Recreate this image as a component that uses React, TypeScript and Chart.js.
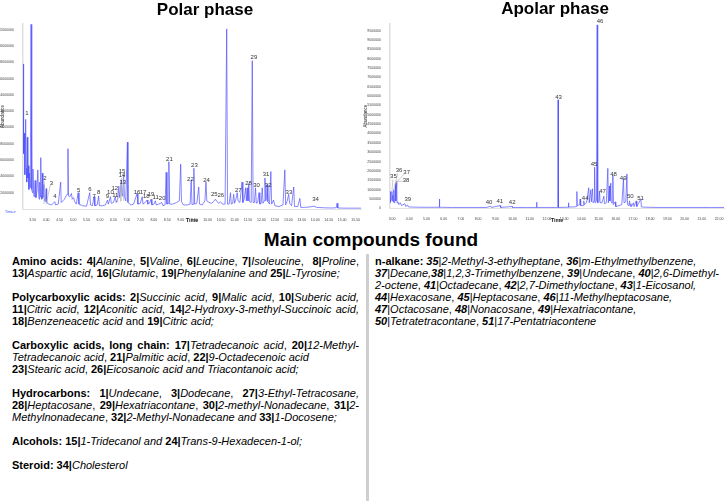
import React, { useEffect, useRef } from "react";
import { Chart, registerables } from "chart.js";
Chart.register(...registerables);

// ---------- DATA ----------
// Polar phase trace: [retention time (min), abundance (millions)]
const polarTrace: [number, number][] = [
  [3.14, 17.8], [3.155, 8.5], [3.17, 6.8], [3.19, 9.3], [3.21, 4.2], [3.24, 11.0], [3.26, 5.0], [3.28, 3.3],
  [3.30, 8.8], [3.32, 3.8], [3.34, 5.3], [3.36, 2.4], [3.38, 4.4], [3.41, 2.6], [3.44, 22.65], [3.465, 2.4],
  [3.49, 2.0], [3.51, 4.9], [3.53, 2.0], [3.56, 1.5], [3.59, 3.5], [3.62, 1.4], [3.66, 2.3], [3.69, 4.8],
  [3.72, 1.8], [3.74, 1.2], [3.76, 3.3], [3.78, 1.5], [3.80, 6.3], [3.82, 1.6], [3.84, 1.2], [3.86, 4.4],
  [3.88, 1.4], [3.92, 3.0], [3.94, 1.0], [3.97, 0.9], [4.00, 2.5], [4.02, 0.8], [4.10, 0.6], [4.20, 0.5],
  [4.32, 0.9], [4.35, 0.5], [4.45, 0.6], [4.54, 3.3], [4.56, 0.8], [4.62, 1.0], [4.68, 1.2], [4.74, 1.6],
  [4.78, 1.8], [4.81, 7.4], [4.83, 1.6], [4.88, 1.5], [4.94, 1.9], [4.97, 1.2], [5.02, 1.4], [5.06, 0.9],
  [5.12, 0.6], [5.19, 2.0], [5.22, 0.6], [5.35, 0.4], [5.50, 0.35], [5.62, 2.0], [5.65, 0.5], [5.72, 0.4],
  [5.78, 1.5], [5.81, 0.4], [5.90, 0.5], [5.95, 1.6], [5.98, 0.4], [6.10, 0.4], [6.20, 0.5], [6.28, 1.1],
  [6.31, 0.6], [6.39, 1.5], [6.42, 0.7], [6.50, 0.8], [6.57, 1.5], [6.60, 0.8], [6.66, 1.2], [6.70, 2.8],
  [6.73, 1.4], [6.76, 2.2], [6.79, 3.6], [6.82, 1.6], [6.85, 2.0], [6.88, 4.2], [6.91, 1.5], [6.96, 1.0],
  [7.02, 8.2], [7.04, 0.8], [7.15, 0.5], [7.25, 0.6], [7.38, 1.9], [7.41, 0.6], [7.50, 0.7], [7.57, 1.5],
  [7.60, 0.6], [7.68, 0.8], [7.75, 1.1], [7.78, 0.6], [7.84, 0.7], [7.90, 1.2], [7.93, 0.5], [8.00, 0.6],
  [8.06, 1.0], [8.09, 0.5], [8.18, 0.6], [8.30, 0.8], [8.34, 0.4], [8.42, 0.5], [8.46, 4.5], [8.49, 0.6],
  [8.53, 0.7], [8.56, 5.8], [8.59, 0.6], [8.70, 0.6], [8.85, 0.8], [8.95, 1.0], [9.00, 5.5], [9.03, 0.9],
  [9.10, 0.5], [9.25, 0.5], [9.35, 0.6], [9.39, 3.5], [9.42, 0.5], [9.46, 0.6], [9.49, 5.0], [9.52, 0.6],
  [9.60, 0.7], [9.67, 2.7], [9.70, 0.6], [9.80, 0.5], [9.90, 1.0], [9.94, 3.3], [9.97, 1.0], [10.05, 0.8],
  [10.15, 0.7], [10.22, 0.9], [10.29, 1.2], [10.35, 0.9], [10.42, 0.7], [10.48, 0.9], [10.55, 0.6], [10.65, 0.6],
  [10.71, 22.1], [10.74, 0.6], [10.80, 0.6], [10.85, 2.0], [10.88, 0.6], [10.93, 0.7], [10.97, 1.8], [11.00, 0.7],
  [11.06, 1.3], [11.10, 2.0], [11.13, 1.0], [11.20, 0.8], [11.28, 3.3], [11.31, 0.8], [11.36, 1.2], [11.41, 2.6],
  [11.44, 1.0], [11.47, 2.6], [11.50, 1.0], [11.53, 3.1], [11.56, 0.9], [11.62, 0.8], [11.66, 18.2], [11.69, 0.8],
  [11.74, 0.8], [11.78, 2.6], [11.81, 0.7], [11.86, 0.8], [11.91, 2.0], [11.94, 0.6], [11.99, 0.7], [12.03, 2.6],
  [12.06, 0.7], [12.10, 1.0], [12.13, 3.8], [12.16, 1.0], [12.19, 1.4], [12.21, 3.0], [12.24, 0.9], [12.30, 0.6],
  [12.35, 4.6], [12.38, 0.6], [12.45, 1.1], [12.50, 0.4], [12.65, 0.3], [12.80, 0.5], [12.87, 4.8], [12.90, 0.5],
  [12.96, 1.0], [13.01, 1.8], [13.05, 0.7], [13.12, 0.4], [13.20, 2.7], [13.23, 0.3], [13.35, 0.3], [13.43, 1.3],
  [13.46, 0.2], [13.60, 0.2], [13.80, 0.25], [13.95, 0.35], [14.05, 0.2], [14.30, 0.15], [14.60, 0.12], [14.78, 0.15],
  [14.81, 0.7], [14.84, 0.12], [15.10, 0.1], [15.40, 0.1], [15.70, 0.1],
];

// Polar peak labels: [label, time, abundance (millions) of label position]
const polarLabels: [string, number, number][] = [
  ["1", 3.29, 11.7], ["2", 3.95, 3.76], ["3", 4.2, 3.15], ["4", 4.33, 1.6], ["5", 5.21, 2.33],
  ["6", 5.63, 2.4], ["7", 5.78, 1.5], ["8", 5.95, 2.0], ["9", 6.28, 1.6], ["10", 6.39, 2.0],
  ["11", 6.57, 1.7], ["12", 6.55, 2.5], ["13", 6.85, 3.27], ["14", 6.82, 4.08], ["15", 6.82, 4.65],
  ["16", 7.38, 2.1], ["17", 7.6, 2.0], ["18", 7.72, 1.5], ["19", 7.9, 1.75], ["11", 8.07, 1.43],
  ["20", 8.31, 1.3], ["21", 8.58, 6.1], ["22", 9.36, 3.67], ["23", 9.51, 5.3], ["24", 9.96, 3.5],
  ["25", 10.25, 1.84], ["26", 10.49, 1.63], ["27", 11.14, 2.33], ["28", 11.52, 3.15], ["29", 11.72, 18.6],
  ["30", 11.82, 2.94], ["31", 12.17, 4.25], ["32", 12.25, 2.94], ["33", 13.02, 2.04], ["34", 14.01, 1.2],
];

// Polar leader lines: [labelTime, labelAbund, peakTime, peakAbund] (millions)
const polarLeaders: [number, number, number, number][] = [
  [3.93, 3.4, 3.92, 0.6], [4.16, 3.0, 4.0, 0.6], [6.64, 2.3, 6.66, 0.8],
  [6.78, 3.0, 6.76, 0.9], [6.8, 3.8, 6.79, 1.0], [6.86, 4.4, 6.88, 1.0],
];

// Apolar phase trace: [retention time (min), abundance (millions)]
const apolarTrace: [number, number][] = [
  [2.88, 0.3], [2.9, 0.9], [2.92, 0.35], [2.96, 0.5], [2.99, 0.9], [3.01, 0.4], [3.04, 0.7], [3.07, 0.35],
  [3.1, 1.0], [3.12, 0.3], [3.16, 0.4], [3.2, 1.35], [3.22, 0.4], [3.25, 1.2], [3.27, 1.45], [3.29, 0.3],
  [3.34, 0.35], [3.4, 0.2], [3.48, 0.3], [3.55, 0.15], [3.75, 0.25], [3.8, 0.1], [3.9, 0.18], [3.95, 0.08],
  [4.2, 0.07], [4.6, 0.06], [5.0, 0.06], [5.5, 0.06], [5.73, 0.06], [5.75, 0.5], [5.77, 0.06], [6.5, 0.05],
  [7.5, 0.05], [8.5, 0.05], [8.74, 0.12], [8.78, 0.05], [9.28, 0.15], [9.31, 0.05], [9.97, 0.1], [10.0, 0.05],
  [10.8, 0.05], [11.38, 0.05], [11.4, 0.33], [11.42, 0.05], [12.0, 0.05], [12.5, 0.05], [12.63, 0.05], [12.65, 5.8],
  [12.67, 0.05], [13.1, 0.06], [13.23, 0.06], [13.25, 0.3], [13.27, 0.07], [13.6, 0.08], [13.72, 0.1], [13.74, 0.9],
  [13.76, 0.15], [13.9, 0.2], [13.93, 0.5], [13.96, 0.15], [14.1, 0.15], [14.14, 0.4], [14.18, 0.2], [14.3, 0.3],
  [14.43, 1.1], [14.46, 0.3], [14.55, 1.0], [14.58, 0.35], [14.65, 1.05], [14.68, 0.3], [14.74, 0.4], [14.77, 2.2],
  [14.8, 0.3], [14.88, 0.4], [14.92, 9.8], [14.95, 0.3], [15.02, 0.35], [15.06, 0.9], [15.09, 0.3], [15.2, 0.3],
  [15.31, 0.65], [15.34, 0.25], [15.45, 0.3], [15.54, 2.14], [15.57, 0.3], [15.63, 1.2], [15.66, 0.4], [15.71, 1.35],
  [15.74, 0.3], [15.8, 0.3], [15.83, 1.78], [15.86, 0.2], [15.97, 0.35], [16.0, 0.1], [16.2, 0.15], [16.35, 0.2],
  [16.45, 1.6], [16.48, 0.3], [16.58, 0.35], [16.65, 1.84], [16.68, 0.2], [16.76, 0.15], [16.8, 0.4], [16.83, 0.12],
  [16.88, 0.25], [16.91, 0.1], [17.03, 0.3], [17.06, 0.1], [17.19, 0.4], [17.22, 0.1], [17.46, 0.5], [17.49, 0.08],
  [17.8, 0.06], [18.5, 0.05], [19.5, 0.05], [20.5, 0.05], [21.5, 0.05], [22.29, 0.05],
];

const apolarLabels: [string, number, number][] = [
  ["35", 3.08, 1.7], ["36", 3.41, 2.02], ["37", 3.85, 1.93], ["38", 3.81, 1.5], ["39", 3.91, 0.5],
  ["40", 8.64, 0.33], ["41", 9.26, 0.36], ["42", 9.98, 0.31], ["43", 12.67, 5.92], ["44", 14.22, 0.52],
  ["45", 14.74, 2.34], ["46", 15.09, 10.0], ["47", 15.23, 0.89], ["48", 15.87, 1.84], ["49", 16.43, 1.61],
  ["50", 16.84, 0.66], ["51", 17.44, 0.54],
];

const apolarLeaders: [number, number, number, number][] = [
  [3.05, 1.55, 2.99, 0.9], [3.33, 1.88, 3.1, 1.0], [3.72, 1.85, 3.2, 1.35], [3.68, 1.45, 3.27, 1.45],
];

// Axis ranges (abundance in millions, time in min)
const polarYRange = { min: 0, max: 22.7, step: 2 };
const apolarYRange = { min: 0, max: 9.85, step: 0.5 };
const polarXRange = { min: 3.14, max: 15.7, step: 0.5 };
const apolarXRange = { min: 2.88, max: 22.29, step: 1 };

// ---------- CHART HELPERS ----------
const FONT = '"Liberation Sans", Arial, Helvetica, sans-serif';

function labelPlugin(
  labels: [string, number, number][],
  leaders: [number, number, number, number][],
  showTimeArrow: boolean
) {
  return {
    id: "peakLabels",
    afterDatasetsDraw(chart: any) {
      const { ctx, chartArea } = chart;
      const xs = chart.scales.x;
      const ys = chart.scales.y;
      ctx.save();
      ctx.strokeStyle = "#b5b5b5";
      ctx.lineWidth = 0.7;
      leaders.forEach(([t1, v1, t2, v2]) => {
        ctx.beginPath();
        ctx.moveTo(xs.getPixelForValue(t1), ys.getPixelForValue(v1));
        ctx.lineTo(xs.getPixelForValue(t2), ys.getPixelForValue(v2));
        ctx.stroke();
      });
      ctx.fillStyle = "#333";
      ctx.font = `6px ${FONT}`;
      ctx.textAlign = "center";
      ctx.textBaseline = "middle";
      labels.forEach(([s, t, v]) => {
        ctx.fillText(s, xs.getPixelForValue(t), ys.getPixelForValue(v));
      });
      if (showTimeArrow) {
        ctx.fillStyle = "#3b4bff";
        ctx.font = `3.5px ${FONT}`;
        ctx.textAlign = "left";
        ctx.fillText("Time->", chartArea.left - 18, chartArea.bottom + 3);
      }
      ctx.restore();
    },
  };
}

function makeChart(
  canvas: HTMLCanvasElement,
  trace: [number, number][],
  labels: [string, number, number][],
  leaders: [number, number, number, number][],
  xr: { min: number; max: number; step: number },
  yr: { min: number; max: number; step: number },
  yAxisWidth: number,
  xAxisHeight: number,
  topPad: number,
  showZero: boolean,
  showTimeArrow: boolean
) {
  return new Chart(canvas, {
    type: "line",
    data: {
      datasets: [
        {
          data: trace.map(([t, v]) => ({ x: t, y: v })),
          borderColor: "rgba(80,80,255,0.68)",
          borderWidth: 1,
          pointRadius: 0,
          tension: 0,
          fill: false,
        },
      ],
    },
    options: {
      animation: false,
      responsive: false,
      maintainAspectRatio: false,
      layout: { padding: { top: topPad, right: 2, left: 0, bottom: 0 } },
      plugins: { legend: { display: false }, tooltip: { enabled: false }, title: { display: false } },
      scales: {
        x: {
          type: "linear",
          min: xr.min,
          max: xr.max,
          grid: { display: false },
          border: { color: "#e2e2e2", width: 1 },
          ticks: {
            stepSize: xr.step,
            includeBounds: false,
            autoSkip: false,
            maxRotation: 0,
            padding: 1,
            color: "#444",
            font: { size: 3.5, family: FONT },
            callback: (v: any) => Number(v).toFixed(2),
          },
          title: {
            display: true,
            text: "Time",
            color: "#222",
            font: { size: 5.5, weight: "bold", family: FONT },
            padding: { top: 0, bottom: 1 },
          },
          afterFit: (s: any) => {
            s.height = xAxisHeight;
          },
        },
        y: {
          type: "linear",
          min: yr.min,
          max: yr.max,
          grid: { display: false },
          border: { color: "#e0e0e0", width: 1.5 },
          ticks: {
            stepSize: yr.step,
            includeBounds: false,
            autoSkip: false,
            padding: 1,
            color: "#444",
            font: { size: 3.5, family: FONT },
            callback: (v: any) => (Number(v) === 0 && !showZero ? "" : String(Math.round(Number(v) * 1e6))),
          },
          title: {
            display: true,
            text: "Abundance",
            color: "#222",
            font: { size: 4.5, family: FONT },
            padding: { top: 0, bottom: 1 },
          },
          afterFit: (s: any) => {
            s.width = yAxisWidth;
          },
        },
      },
    },
    plugins: [labelPlugin(labels, leaders, showTimeArrow)],
  } as any);
}

// ---------- TEXT HELPERS ----------
const B = ({ children }: any) => <b>{children}</b>;
const I = ({ children }: any) => <i>{children}</i>;
const BI = ({ children }: any) => (
  <b>
    <i>{children}</i>
  </b>
);
const J = ({ children }: any) => (
  <div style={{ textAlign: "justify", textAlignLast: "justify", whiteSpace: "pre-wrap" }}>{children}</div>
);
const L = ({ children }: any) => <div style={{ whiteSpace: "pre-wrap" }}>{children}</div>;
const Gap = () => <div style={{ height: 12 }} />;

export default function App() {
  const polarRef = useRef<HTMLCanvasElement | null>(null);
  const apolarRef = useRef<HTMLCanvasElement | null>(null);

  useEffect(() => {
    const c1 = makeChart(polarRef.current!, polarTrace, polarLabels, polarLeaders, polarXRange, polarYRange, 23, 16, 24, false, true);
    const c2 = makeChart(apolarRef.current!, apolarTrace, apolarLabels, apolarLeaders, apolarXRange, apolarYRange, 27, 16.6, 24, true, false);
    return () => {
      c1.destroy();
      c2.destroy();
    };
  }, []);

  return (
    <div
      style={{
        position: "absolute",
        left: 0,
        top: 0,
        width: 726,
        height: 501,
        background: "#fff",
        overflow: "hidden",
        fontFamily: FONT,
        color: "#000",
      }}
    >
      <canvas ref={polarRef} width={363} height={225} style={{ position: "absolute", left: 0, top: 0, width: 363, height: 225 }} />
      <canvas ref={apolarRef} width={363} height={225} style={{ position: "absolute", left: 363, top: 0, width: 363, height: 225 }} />
      <div style={{ position: "absolute", left: 105, top: 0, width: 200, textAlign: "center", fontWeight: "bold", fontSize: 17, lineHeight: "20px" }}>
        Polar phase
      </div>
      <div style={{ position: "absolute", left: 455, top: -1, width: 200, textAlign: "center", fontWeight: "bold", fontSize: 17, lineHeight: "20px" }}>
        Apolar phase
      </div>
      <div style={{ position: "absolute", left: 171, top: 229, width: 400, textAlign: "center", fontWeight: "bold", fontSize: 19, lineHeight: "22px" }}>
        Main compounds found
      </div>

      <div style={{ position: "absolute", left: 12, top: 255, width: 347, fontSize: 11, lineHeight: "12px" }}>
        <J>
          <B>Amino acids: 4|</B><I>Alanine</I>, <B>5|</B><I>Valine</I>, <B>6|</B><I>Leucine</I>, <B>7|</B><I>Isoleucine</I>,  <B>8|</B><I>Proline</I>,
        </J>
        <L>
          <B>13|</B><I>Aspartic acid</I>, <B>16|</B><I>Glutamic</I>, <B>19|</B><I>Phenylalanine and</I> <B>25|</B><I>L-Tyrosine;</I>
        </L>
        <Gap />
        <J>
          <B>Polycarboxylic acids: 2|</B><I>Succinic acid</I>, <B>9|</B><I>Malic acid</I>, <B>10|</B><I>Suberic acid,</I>
        </J>
        <J>
          <B>11|</B><I>Citric acid</I>, <B>12|</B><I>Aconitic acid</I>, <B>14|</B><I>2-Hydroxy-3-methyl-Succinoic acid,</I>
        </J>
        <L>
          <B>18|</B><I>Benzeneacetic acid</I> and <B>19|</B><I>Citric acid;</I>
        </L>
        <Gap />
        <J>
          <B>Carboxylic acids, long chain: 17|</B><I>Tetradecanoic acid</I>, <B>20|</B><I>12-Methyl-</I>
        </J>
        <L>
          <I>Tetradecanoic acid</I>, <B>21|</B><I>Palmitic acid</I>, <B>22|</B><I>9-Octadecenoic acid</I>
        </L>
        <L>
          <B>23|</B><I>Stearic acid</I>, <B>26|</B><I>Eicosanoic acid and Triacontanoic acid;</I>
        </L>
        <Gap />
        <J>
          <B>Hydrocarbons: 1|</B><I>Undecane</I>, <B>3|</B><I>Dodecane</I>, <B>27|</B><I>3-Ethyl-Tetracosane,</I>
        </J>
        <J>
          <B>28|</B><I>Heptacosane</I>, <B>29|</B><I>Hexatriacontane</I>, <B>30|</B><I>2-methyl-Nonadecane</I>, <B>31|</B><I>2-</I>
        </J>
        <L>
          <I>Methylnonadecane</I>, <B>32|</B><I>2-Methyl-Nonadecane and</I> <B>33|</B><I>1-Docosene;</I>
        </L>
        <Gap />
        <L>
          <B>Alcohols: 15|</B><I>1-Tridecanol and</I> <B>24|</B><I>Trans-9-Hexadecen-1-ol;</I>
        </L>
        <Gap />
        <L>
          <B>Steroid: 34|</B><I>Cholesterol</I>
        </L>
      </div>

      <div style={{ position: "absolute", left: 366, top: 254, width: 3, height: 247, background: "#cfcfcf" }} />

      <div style={{ position: "absolute", left: 375, top: 255, width: 350, fontSize: 11, lineHeight: "12px" }}>
        <L>
          <B>n-alkane:</B> <BI>35</BI>|<I>2-Methyl-3-ethylheptane</I>, <BI>36</BI>|<I>m-Ethylmethylbenzene,</I>
        </L>
        <L>
          <BI>37</BI>|<I>Decane,</I><BI>38</BI>|<I>1,2,3-Trimethylbenzene</I>, <BI>39</BI>|<I>Undecane</I>, <BI>40</BI>|<I>2,6-Dimethyl-</I>
        </L>
        <L>
          <I>2-octene</I>, <BI>41</BI>|<I>Octadecane</I>, <BI>42</BI>|<I>2,7-Dimethyloctane</I>, <BI>43</BI>|<I>1-Eicosanol,</I>
        </L>
        <L>
          <BI>44</BI>|<I>Hexacosane</I>, <BI>45</BI>|<I>Heptacosane</I>, <BI>46</BI>|<I>11-Methylheptacosane,</I>
        </L>
        <L>
          <BI>47</BI>|<I>Octacosane</I>, <BI>48</BI>|<I>Nonacosane</I>, <BI>49</BI>|<I>Hexatriacontane,</I>
        </L>
        <L>
          <BI>50</BI>|<I>Tetratetracontane</I>, <BI>51</BI>|<I>17-Pentatriacontene</I>
        </L>
      </div>
    </div>
  );
}
